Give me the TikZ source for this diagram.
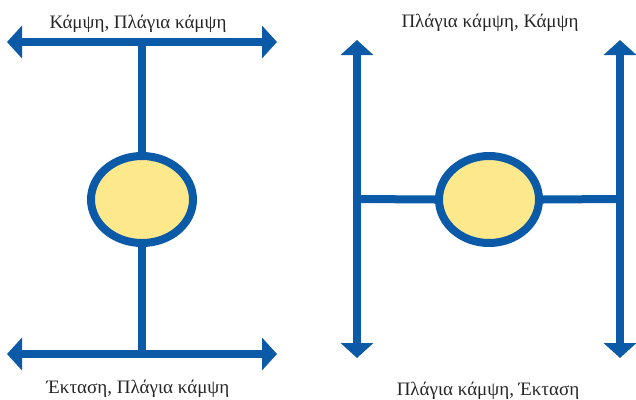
\documentclass[tikz,border=0pt]{standalone}
\usepackage{fontspec}
\setmainfont{Liberation Serif}
\usetikzlibrary{arrows.meta,shapes.geometric}
\definecolor{jblue}{HTML}{0A5AA8}
\definecolor{jyellow}{HTML}{FDE98C}
\tikzset{
  conn/.style={draw=jblue,line width=8pt},
  dbl/.style={conn,{Triangle[length=15pt,width=32pt]}-{Triangle[length=15pt,width=32pt]}},
  joint/.style={ellipse,draw=jblue,line width=8pt,fill=jyellow,inner sep=0pt},
  lbl/.style={font=\fontsize{19}{22}\selectfont,text=black!85,inner sep=0pt,anchor=base}
}
\begin{document}
\begin{tikzpicture}[x=1pt,y=-1pt]
\useasboundingbox (0,0) rectangle (636,399);
% left diagram
\coordinate (lt1) at (7,42);
\coordinate (lt2) at (277,42);
\coordinate (ltm) at (142,42);
\coordinate (lb1) at (7,354);
\coordinate (lb2) at (277,354);
\coordinate (lbm) at (142,354);
\node[joint,minimum width=102pt,minimum height=87pt] (e1) at (142,199.5) {};
\draw[conn] (ltm) -- (e1.north);
\draw[conn] (e1.south) -- (lbm);
\draw[dbl] (lt1) -- (lt2);
\draw[dbl] (lb1) -- (lb2);
\node[lbl] (t1) at (138,28) {Κάμψη, Πλάγια κάμψη};
\node[lbl] (t2) at (138,393) {Έκταση, Πλάγια κάμψη};
% right diagram
\coordinate (rl1) at (357,40);
\coordinate (rl2) at (357,358);
\coordinate (rlm) at (357,199);
\coordinate (rr1) at (620,40);
\coordinate (rr2) at (620,358);
\coordinate (rrm) at (620,199);
\node[joint,minimum width=100pt,minimum height=87pt] (e2) at (489,199.5) {};
\draw[conn] (rlm) -- (e2.west);
\draw[conn] (e2.east) -- (rrm);
\draw[dbl] (rl1) -- (rl2);
\draw[dbl] (rr1) -- (rr2);
\node[lbl] (t3) at (490,27) {Πλάγια κάμψη, Κάμψη};
\node[lbl] (t4) at (488,395) {Πλάγια κάμψη, Έκταση};
\end{tikzpicture}
\end{document}
